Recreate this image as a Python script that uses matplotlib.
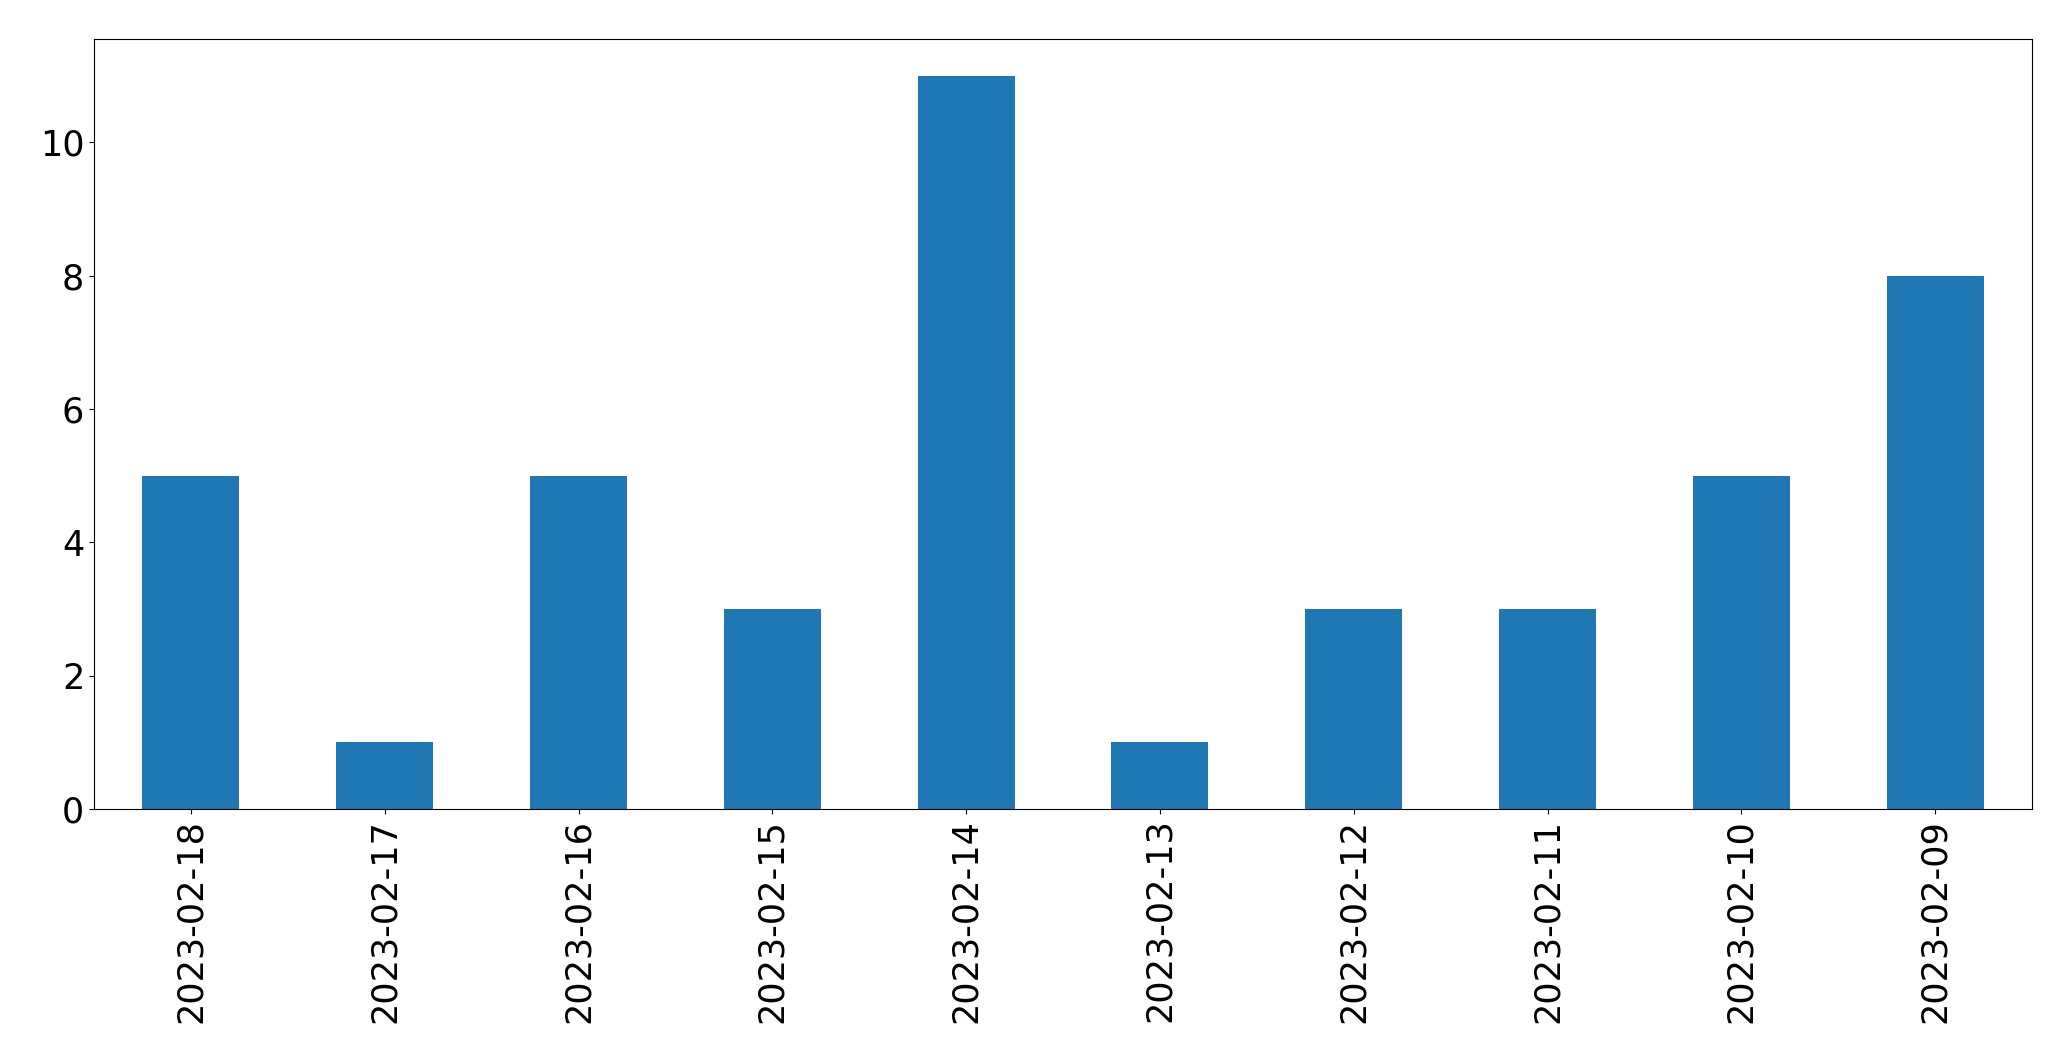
import matplotlib
matplotlib.use('Agg')
import matplotlib.pyplot as plt
import pandas as pd

# Data
DATES = ['2023-02-18', '2023-02-17', '2023-02-16', '2023-02-15', '2023-02-14',
         '2023-02-13', '2023-02-12', '2023-02-11', '2023-02-10', '2023-02-09']
COUNTS = [5, 1, 5, 3, 11, 1, 3, 3, 5, 8]

W, H = 2071, 1061
fig = plt.figure(figsize=(W / 100, H / 100), dpi=100)
ax = fig.add_axes([94 / W, (H - 809) / H, (2032 - 94) / W, (809 - 39) / H])

s = pd.Series(COUNTS, index=DATES)
s.plot(kind='bar', ax=ax, color='#1f77b4')

ax.tick_params(axis='both', labelsize=25.2)
ax.set_xlabel('')

fig.savefig('out.png', dpi=100)
